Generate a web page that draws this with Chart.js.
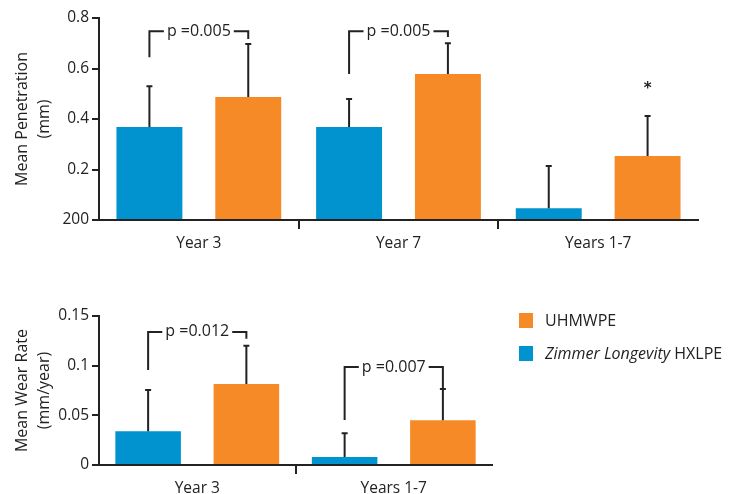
<!DOCTYPE html>
<html>
<head>
<meta charset="utf-8">
<script src="https://cdn.jsdelivr.net/npm/chart.js@4.4.0/dist/chart.umd.min.js"></script>
<style>
  html, body { margin: 0; padding: 0; background: #fff; }
  body { width: 736px; height: 494px; overflow: hidden; position: relative; font-family: "Open Sans", sans-serif; color: #222; }
  #graficoPenetracao { position: absolute; left: 0; top: 0; }
  #graficoDesgaste { position: absolute; left: 0; top: 290px; }
  .legenda { position: absolute; left: 519px; font-size: 16px; line-height: 15px; }
  .legenda span.cor { position: absolute; left: 0; top: 0; width: 14px; height: 15px; }
  .legenda span.txt { position: absolute; left: 26px; top: 0; white-space: nowrap; }
</style>
</head>
<body>
<canvas id="graficoPenetracao" width="736" height="260"></canvas>
<canvas id="graficoDesgaste" width="736" height="220"></canvas>

<div class="legenda" style="top:313px"><span class="cor" style="background:#F58A27"></span><span class="txt">UHMWPE</span></div>
<div class="legenda" style="top:346px"><span class="cor" style="background:#0193CF"></span><span class="txt"><i>Zimmer Longevity</i> HXLPE</span></div>

<script>
// cores
const corAzul = '#0193CF'
const corLaranja = '#F58A27'
const corTexto = '#222'

// ---------- grafico de cima: penetracao media (mm) ----------
const categoriasTopo = ['Year 3', 'Year 7', 'Years 1-7']
const hxlpeTopo = [0.368, 0.368, 0.047]
const uhmwpeTopo = [0.487, 0.578, 0.253]
const erroHxlpeTopo = [0.53, 0.479, 0.214]
const erroUhmwpeTopo = [0.697, 0.70, 0.412]
const ticksTopo = ['200', '0.2', '0.4', '0.6', '0.8']

// chaves de significancia (valores no eixo y)
const pTextoTopo = ['p =0.005', 'p =0.005']
const pCategoriaTopo = [0, 1]
const pNivelTopo = [0.748, 0.748]
const pPernaEsqTopo = [0.645, 0.578]
const pPernaDirTopo = [0.717, 0.725]
const estrelaTopo = [null, null, 0.53]

// ---------- grafico de baixo: taxa de desgaste (mm/ano) ----------
const categoriasBaixo = ['Year 3', 'Years 1-7']
const hxlpeBaixo = [0.034, 0.008]
const uhmwpeBaixo = [0.0815, 0.045]
const erroHxlpeBaixo = [0.0755, 0.032]
const erroUhmwpeBaixo = [0.12, 0.0765]
const ticksBaixo = ['0', '0.05', '0.1', '0.15']

const pTextoBaixo = ['p =0.012', 'p =0.007']
const pCategoriaBaixo = [0, 1]
const pNivelBaixo = [0.134, 0.0987]
const pPernaEsqBaixo = [0.0957, 0.0453]
const pPernaDirBaixo = [0.127, 0.0765]

const fonte = { family: '"Open Sans", sans-serif', size: 15.5 }

// desenha barras de erro, chaves com p-valor e asterisco
function criarAnotacoes(erros, textos, cats, niveis, esq, dir, estrelas) {
  return {
    id: 'anotacoes',
    afterDatasetsDraw(chart) {
      const ctx = chart.ctx
      const y = chart.scales.y
      ctx.save()
      ctx.strokeStyle = corTexto
      ctx.fillStyle = corTexto
      ctx.lineWidth = 2

      chart.data.datasets.forEach((ds, di) => {
        chart.getDatasetMeta(di).data.forEach((barra, i) => {
          const topo = y.getPixelForValue(erros[di][i])
          ctx.beginPath()
          ctx.moveTo(barra.x, barra.y)
          ctx.lineTo(barra.x, topo)
          ctx.moveTo(barra.x - 3, topo)
          ctx.lineTo(barra.x + 3, topo)
          ctx.stroke()
        })
      })

      ctx.font = '16px "Open Sans", sans-serif'
      ctx.textAlign = 'center'
      ctx.textBaseline = 'middle'
      textos.forEach((texto, k) => {
        const xe = chart.getDatasetMeta(0).data[cats[k]].x
        const xd = chart.getDatasetMeta(1).data[cats[k]].x
        const yn = y.getPixelForValue(niveis[k])
        const meio = (xe + xd) / 2
        const larg = ctx.measureText(texto).width
        ctx.beginPath()
        ctx.moveTo(xe, y.getPixelForValue(esq[k]))
        ctx.lineTo(xe, yn)
        ctx.lineTo(meio - larg / 2 - 3, yn)
        ctx.moveTo(meio + larg / 2 + 3, yn)
        ctx.lineTo(xd, yn)
        ctx.lineTo(xd, y.getPixelForValue(dir[k]))
        ctx.stroke()
        ctx.fillText(texto, meio, yn)
      })

      if (estrelas) {
        ctx.font = 'bold 15px "DejaVu Sans", sans-serif'
        estrelas.forEach((v, i) => {
          if (v == null) return
          const xb = chart.getDatasetMeta(1).data[i].x
          ctx.fillText('*', xb, y.getPixelForValue(v) + 3)
        })
      }
      ctx.restore()
    }
  }
}

function opcoesEixos(max, passo, labels, tituloY, alturaX) {
  return {
    x: {
      offset: true,
      border: { display: true, color: corTexto, width: 2 },
      grid: {
        offset: true,
        drawOnChartArea: false,
        drawTicks: true,
        tickLength: 9,
        lineWidth: 2,
        // so os tracinhos entre categorias, sem os das pontas
        color: (c) => (c.type !== 'tick' || c.index === 0) ? 'rgba(0,0,0,0)' : corTexto
      },
      ticks: { color: corTexto, font: fonte, padding: 5 },
      afterFit: (s) => { s.height = alturaX }
    },
    y: {
      min: 0,
      max: max,
      border: { display: true, color: corTexto, width: 2 },
      grid: { drawOnChartArea: false, drawTicks: true, tickLength: 7, lineWidth: 2, color: corTexto },
      ticks: {
        stepSize: passo,
        color: corTexto,
        font: fonte,
        padding: 3,
        callback: (v, i) => labels[i]
      },
      title: {
        display: true,
        text: tituloY,
        color: corTexto,
        font: { family: '"Open Sans", sans-serif', size: 16, lineHeight: 1.4 },
        padding: { top: 11, bottom: 0 }
      },
      afterFit: (s) => { s.width = 99 }
    }
  }
}

new Chart(document.getElementById('graficoPenetracao'), {
  type: 'bar',
  data: {
    labels: categoriasTopo,
    datasets: [
      { label: 'Zimmer Longevity HXLPE', data: hxlpeTopo, backgroundColor: corAzul },
      { label: 'UHMWPE', data: uhmwpeTopo, backgroundColor: corLaranja }
    ]
  },
  options: {
    responsive: false,
    animation: false,
    barPercentage: 0.667,
    categoryPercentage: 0.99,
    layout: { padding: { left: 0, top: 18, right: 38, bottom: 0 } },
    plugins: { legend: { display: false }, tooltip: { enabled: false } },
    scales: opcoesEixos(0.8, 0.2, ticksTopo, ['Mean Penetration', '(mm)'], 40)
  },
  plugins: [criarAnotacoes([erroHxlpeTopo, erroUhmwpeTopo], pTextoTopo, pCategoriaTopo, pNivelTopo, pPernaEsqTopo, pPernaDirTopo, estrelaTopo)]
})

new Chart(document.getElementById('graficoDesgaste'), {
  type: 'bar',
  data: {
    labels: categoriasBaixo,
    datasets: [
      { label: 'Zimmer Longevity HXLPE', data: hxlpeBaixo, backgroundColor: corAzul },
      { label: 'UHMWPE', data: uhmwpeBaixo, backgroundColor: corLaranja }
    ]
  },
  options: {
    responsive: false,
    animation: false,
    barPercentage: 0.667,
    categoryPercentage: 1.0,
    layout: { padding: { left: 0, top: 26, right: 244, bottom: 0 } },
    plugins: { legend: { display: false }, tooltip: { enabled: false } },
    scales: opcoesEixos(0.15, 0.05, ticksBaixo, ['Mean Wear Rate', '(mm/year)'], 45)
  },
  plugins: [criarAnotacoes([erroHxlpeBaixo, erroUhmwpeBaixo], pTextoBaixo, pCategoriaBaixo, pNivelBaixo, pPernaEsqBaixo, pPernaDirBaixo, null)]
})
</script>
</body>
</html>
